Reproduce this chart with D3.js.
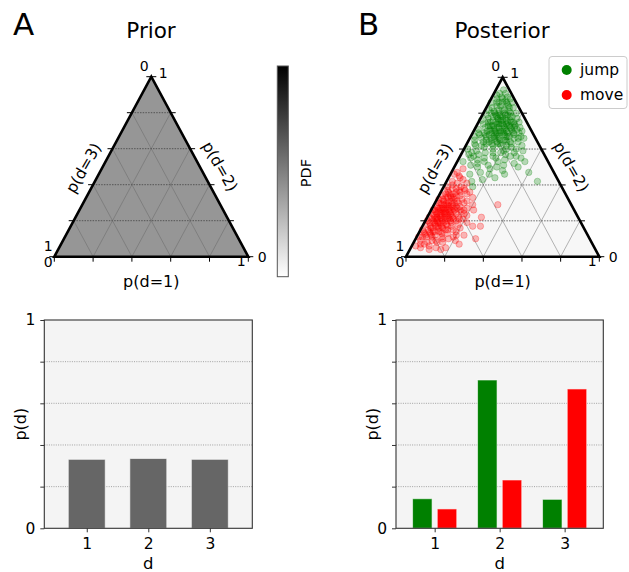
<!DOCTYPE html>
<html><head><meta charset="utf-8">
<script src="https://cdn.jsdelivr.net/npm/d3@7"></script>
<style>body{margin:0;background:#fff} svg{display:block} text{font-family:"DejaVu Sans",sans-serif;fill:#000}</style>
</head><body><svg id="c" width="629" height="572"></svg>
<script>
// ---------------- data ----------------
const categories = [1, 2, 3];
const priorP = [0.331, 0.335, 0.331];
const jumpP = [0.142, 0.712, 0.139];
const moveP = [0.093, 0.232, 0.669];
const barTicks = [0, 0.2, 0.4, 0.6, 0.8, 1];
const barTickLabels = ["0", "", "", "", "", "1"];
const barGrid = [0.2, 0.4, 0.6, 0.8];
const ternTicks = [0, 0.2, 0.4, 0.6, 0.8, 1];
const ternGrid = [0.2, 0.4, 0.6, 0.8];
const ternEndLabels = ["0", "1"];
const seriesNames = ["jump", "move"];
const seriesColors = ["#008000", "#ff0000"];
// posterior samples as [p(d=1), p(d=2)]; p(d=3) = 1 - both
const jumpPts = [
[0.04,0.93],[0.02,0.90],[0.06,0.91],[0.03,0.88],[0.08,0.87],[0.05,0.86],[0.01,0.86],[0.10,0.85],[0.07,0.84],[0.03,0.83],[0.12,0.83],[0.09,0.82],[0.05,0.81],[0.14,0.80],[0.11,0.80],[0.07,0.79],[0.02,0.79],[0.16,0.78],[0.13,0.77],[0.09,0.77],[0.04,0.77],[0.18,0.75],[0.15,0.75],[0.11,0.76],[0.06,0.75],[0.20,0.73],[0.17,0.73],[0.13,0.74],[0.08,0.73],[0.03,0.74],[0.22,0.71],[0.19,0.71],[0.15,0.72],[0.10,0.71],[0.05,0.72],[0.24,0.69],[0.21,0.69],[0.17,0.70],[0.12,0.69],[0.07,0.70],[0.02,0.71],[0.14,0.67],[0.19,0.67],[0.09,0.68],[0.04,0.68],[0.23,0.66],[0.16,0.65],[0.11,0.66],[0.06,0.66],[0.26,0.64],[0.20,0.64],[0.13,0.63],[0.08,0.64],[0.03,0.65],[0.18,0.62],[0.24,0.61],[0.10,0.61],[0.15,0.60],[0.05,0.62],[0.21,0.59],[0.27,0.60],[0.12,0.58],[0.07,0.59],
[0.13,0.81],[0.10,0.78],[0.12,0.74],[0.16,0.76],[0.08,0.80],[0.14,0.70],[0.18,0.72],[0.11,0.72],[0.06,0.78],[0.15,0.78],[0.09,0.75],[0.13,0.68],[0.17,0.68],[0.20,0.70],[0.10,0.69],[0.07,0.76],[0.12,0.79],[0.16,0.73],[0.19,0.74],[0.14,0.76],[0.22,0.68],[0.08,0.71],[0.11,0.64],[0.15,0.66],[0.18,0.65],[0.21,0.62],[0.25,0.66],[0.05,0.84],[0.09,0.86],[0.06,0.88],[0.11,0.84],[0.07,0.82],[0.04,0.80],[0.10,0.88],[0.03,0.91],[0.08,0.89],[0.12,0.86],[0.14,0.83],[0.17,0.80],[0.19,0.77],[0.21,0.75],[0.23,0.72],[0.06,0.69],[0.09,0.65],[0.04,0.63],[0.14,0.62],[0.17,0.63],[0.22,0.64],[0.28,0.66],[0.25,0.70],[0.12,0.72],[0.09,0.73],[0.15,0.70],[0.18,0.69],[0.05,0.75],[0.07,0.73],[0.11,0.70],[0.13,0.66],[0.20,0.67],[0.16,0.69],[0.10,0.74],[0.14,0.73],[0.08,0.67],[0.03,0.69],[0.01,0.76],[0.02,0.82],[0.06,0.80],[0.10,0.82],
[0.12,0.76],[0.15,0.74],[0.10,0.76],[0.08,0.78],[0.13,0.79],[0.11,0.78],[0.16,0.71],[0.14,0.69],[0.12,0.67],[0.18,0.67],[0.09,0.70],[0.07,0.68],[0.19,0.65],[0.16,0.63],[0.13,0.70],[0.11,0.74],[0.06,0.73],[0.17,0.75],[0.20,0.72],[0.09,0.79],[0.07,0.86],[0.05,0.89],[0.04,0.86],[0.10,0.63],[0.23,0.63],[0.26,0.67],[0.12,0.65],[0.08,0.62],[0.02,0.67],[0.15,0.64],
[0.06,0.55],[0.10,0.54],[0.14,0.53],[0.19,0.55],[0.24,0.54],[0.29,0.56],[0.08,0.51],[0.12,0.50],[0.17,0.51],[0.22,0.50],[0.03,0.53],[0.15,0.47],[0.20,0.46],[0.26,0.48],[0.10,0.46],[0.18,0.43],[0.13,0.42],[0.24,0.44],[0.33,0.50],[0.47,0.42],[0.40,0.47],[0.30,0.52],[0.27,0.58],[0.32,0.55],[0.05,0.58],[0.17,0.56],[0.21,0.53],[0.35,0.53],[0.28,0.46],[0.15,0.39],[0.09,0.57],[0.02,0.60],[0.23,0.57],[0.19,0.49],[0.11,0.52],[0.25,0.51],[0.31,0.59],[0.16,0.58],[0.07,0.56],[0.13,0.55],[0.20,0.58],[0.26,0.56],[0.22,0.60],[0.29,0.62],[0.04,0.57]
];
const movePts = [
[0.02,0.06],[0.05,0.05],[0.09,0.06],[0.13,0.05],[0.18,0.05],[0.03,0.09],[0.07,0.08],[0.11,0.09],[0.15,0.08],[0.01,0.11],[0.05,0.11],[0.09,0.12],[0.13,0.11],[0.17,0.10],[0.21,0.09],[0.03,0.13],[0.07,0.14],[0.11,0.14],[0.15,0.13],[0.19,0.14],[0.01,0.15],[0.05,0.16],[0.09,0.16],[0.13,0.17],[0.02,0.18],[0.06,0.18],[0.10,0.19],[0.14,0.19],[0.18,0.18],[0.04,0.20],[0.08,0.21],[0.12,0.21],[0.16,0.22],[0.01,0.22],[0.06,0.23],[0.10,0.23],[0.14,0.24],[0.20,0.23],[0.03,0.25],[0.08,0.25],[0.12,0.26],[0.17,0.26],[0.05,0.27],[0.10,0.28],[0.14,0.28],[0.02,0.28],[0.07,0.30],[0.12,0.30],[0.16,0.31],[0.04,0.31],[0.09,0.32],[0.01,0.32],[0.06,0.34],[0.11,0.34],[0.14,0.35],[0.03,0.35],[0.08,0.36],[0.12,0.37],[0.05,0.38],[0.02,0.39],[0.09,0.39],[0.06,0.41],[0.11,0.41],[0.03,0.42],[0.08,0.43],[0.05,0.45],[0.02,0.46],[0.05,0.49],
[0.04,0.17],[0.07,0.19],[0.03,0.21],[0.09,0.20],[0.05,0.22],[0.08,0.24],[0.04,0.24],[0.06,0.26],[0.11,0.24],[0.02,0.26],[0.07,0.22],[0.10,0.26],[0.06,0.20],[0.03,0.19],[0.08,0.17],[0.12,0.18],[0.05,0.14],[0.09,0.27],[0.04,0.29],[0.07,0.27],[0.13,0.22],[0.11,0.20],[0.06,0.29],[0.08,0.31],[0.03,0.27],[0.10,0.30],[0.05,0.33],[0.07,0.33],[0.02,0.24],[0.04,0.15],[0.11,0.16],[0.14,0.15],[0.07,0.12],[0.03,0.11],[0.01,0.20],[0.16,0.20],[0.12,0.28],[0.09,0.34],[0.04,0.36],[0.13,0.32],[0.15,0.26],[0.18,0.24],[0.17,0.15],[0.20,0.16],[0.22,0.19],[0.19,0.21],[0.24,0.12],[0.26,0.17],[0.22,0.26],[0.30,0.17],[0.31,0.10],[0.33,0.29],[0.24,0.07],[0.28,0.22],[0.15,0.36],[0.18,0.33],[0.20,0.29],[0.16,0.04],[0.10,0.04],[0.06,0.07],[0.14,0.10],
[0.06,0.16],[0.08,0.19],[0.05,0.19],[0.09,0.22],[0.06,0.24],[0.04,0.22],[0.07,0.25],[0.05,0.25],[0.08,0.28],[0.03,0.30],[0.07,0.17],[0.10,0.21],[0.09,0.24],[0.11,0.27],[0.06,0.31],[0.02,0.34],[0.04,0.27],[0.10,0.14],[0.12,0.23],[0.08,0.14],[0.13,0.20],[0.15,0.17],[0.17,0.21],[0.11,0.31],[0.07,0.35],[0.04,0.40],[0.09,0.37],[0.02,0.14],[0.19,0.11],[0.12,0.13],
[0.05,0.21],[0.07,0.23],[0.03,0.23],[0.09,0.18],[0.06,0.21],[0.08,0.26],[0.04,0.26],[0.10,0.25],[0.05,0.29],[0.07,0.29],[0.03,0.32],[0.06,0.27],[0.09,0.29],[0.11,0.22],[0.12,0.25],[0.06,0.13],[0.04,0.12],[0.08,0.11],[0.10,0.17],[0.13,0.15],[0.05,0.35],[0.08,0.33],[0.10,0.36],[0.03,0.37],[0.07,0.38],[0.06,0.44],[0.03,0.47],[0.14,0.21],[0.16,0.25],[0.13,0.27],[0.02,0.30],[0.01,0.26],[0.04,0.33],[0.09,0.09],[0.12,0.08],[0.04,0.07],[0.20,0.12],[0.18,0.27],[0.15,0.30],[0.11,0.38]
];

// ---------------- layout ----------------
const svg = d3.select("#c");
const FONT = '"DejaVu Sans", sans-serif';

function ternary(geo, fill, pts) {
  const g = svg.append("g");
  const xs = d3.scaleLinear().domain([0, 1]).range([geo.x0, geo.x1]);
  const ys = d3.scaleLinear().domain([0, 1]).range([geo.y0, geo.yTop]);
  const P = (a, b) => [xs(a + b / 2), ys(b)];
  const line = d3.line();
  g.append("path").attr("d", line([P(0,0), P(1,0), P(0,1)]) + "Z").attr("fill", fill);
  // grid
  ternGrid.forEach(v => {
    g.append("path").attr("d", line([P(0, v), P(1 - v, v)]))
      .attr("stroke", "#444").attr("stroke-width", 0.8).attr("stroke-dasharray", "1.5 1.2").attr("fill", "none");
    [[P(v, 0), P(v, 1 - v)], [P(1 - v, 0), P(0, 1 - v)]].forEach(seg => {
      g.append("path").attr("d", line(seg)).attr("stroke", "#666").attr("stroke-width", 0.6).attr("fill", "none").attr("opacity", 0.8);
    });
  });
  // points
  if (pts) {
    pts.forEach((set, i) => {
      g.append("g").selectAll("circle").data(set).join("circle")
        .attr("cx", d => P(d[0], d[1])[0]).attr("cy", d => P(d[0], d[1])[1]).attr("r", 3.2)
        .attr("fill", seriesColors[i]).attr("fill-opacity", 0.27)
        .attr("stroke", seriesColors[i]).attr("stroke-opacity", 0.32).attr("stroke-width", 0.8);
    });
  }
  // border
  g.append("path").attr("d", line([P(0,0), P(1,0), P(0,1)]) + "Z").attr("fill", "none")
    .attr("stroke", "#000").attr("stroke-width", 2.6).attr("stroke-linejoin", "miter");
  // ticks
  ternTicks.forEach(v => {
    const b = P(v, 0); g.append("line").attr("x1", b[0]).attr("x2", b[0]).attr("y1", b[1]).attr("y2", b[1] + 5).attr("stroke", "#000").attr("stroke-width", 1);
    const r = P(1 - v, v); g.append("line").attr("x1", r[0]).attr("x2", r[0] + 5).attr("y1", r[1]).attr("y2", r[1]).attr("stroke", "#000").attr("stroke-width", 1);
    const l = P(0, 1 - v); g.append("line").attr("x1", l[0]).attr("x2", l[0] - 5).attr("y1", l[1]).attr("y2", l[1]).attr("stroke", "#000").attr("stroke-width", 1);
  });
  const lab = (p, dx, dy, t) => g.append("text").attr("x", p[0] + dx).attr("y", p[1] + dy)
    .attr("text-anchor", "middle").attr("dominant-baseline", "central").attr("font-size", 14).text(t);
  // bottom axis p(d=1): 0 at left, 1 at right
  lab(P(0, 0), -6, 5, ternEndLabels[0]); lab(P(1, 0), -7, 4, ternEndLabels[1]);
  // right axis p(d=2): 0 at bottom right, 1 at top
  lab(P(1, 0), 14, 0, ternEndLabels[0]); lab(P(0, 1), 12, -4, ternEndLabels[1]);
  // left axis p(d=3): 0 at top, 1 at bottom left
  lab(P(0, 1), -7, -11, ternEndLabels[0]); lab(P(0, 0), -6, -10.5, ternEndLabels[1]);
  // axis titles
  const bm = P(0.5, 0);
  g.append("text").attr("x", bm[0]).attr("y", bm[1] + 30.5).attr("text-anchor", "middle").attr("font-size", 16).text("p(d=1)");
  const lm = P(0, 0.5);
  g.append("text").attr("transform", `translate(${lm[0] - 19},${lm[1] + 1.5}) rotate(-60)`)
    .attr("text-anchor", "middle").attr("dominant-baseline", "central").attr("font-size", 15.5).text("p(d=3)");
  const rm = P(0.5, 0.5);
  g.append("text").attr("transform", `translate(${rm[0] + 20},${rm[1]}) rotate(60)`)
    .attr("text-anchor", "middle").attr("dominant-baseline", "central").attr("font-size", 15.5).text("p(d=2)");
  return g;
}

function barChart(box, domain, groups) {
  const g = svg.append("g");
  const x = d3.scaleLinear().domain(domain).range([box.l, box.r]);
  const y = d3.scaleLinear().domain([0, 1]).range([box.b, box.t]);
  g.append("rect").attr("x", box.l).attr("y", box.t).attr("width", box.r - box.l).attr("height", box.b - box.t).attr("fill", "#f4f4f4");
  g.selectAll(".gl").data(barGrid).join("line").attr("x1", box.l).attr("x2", box.r)
    .attr("y1", d => y(d)).attr("y2", d => y(d)).attr("stroke", "#999").attr("stroke-width", 0.9).attr("stroke-dasharray", "1 1.3");
  groups.forEach(gr => {
    g.append("g").selectAll("rect").data(gr.vals).join("rect")
      .attr("x", (d, i) => x(categories[i] + gr.offset - gr.width / 2))
      .attr("width", (d, i) => x(categories[i] + gr.offset + gr.width / 2) - x(categories[i] + gr.offset - gr.width / 2))
      .attr("y", d => y(d)).attr("height", d => y(0) - y(d))
      .attr("fill", gr.color).attr("stroke", "#fff").attr("stroke-opacity", 0.6).attr("stroke-width", 1);
  });
  g.append("rect").attr("x", box.l).attr("y", box.t).attr("width", box.r - box.l).attr("height", box.b - box.t)
    .attr("fill", "none").attr("stroke", "#333").attr("stroke-width", 1.1);
  const ya = g.append("g").attr("transform", `translate(${box.l},0)`)
    .call(d3.axisLeft(y).tickValues(barTicks).tickFormat((d, i) => barTickLabels[i]).tickSize(4).tickPadding(5));
  ya.select(".domain").remove();
  ya.selectAll("text").attr("font-size", 15.5).attr("font-family", FONT);
  ya.selectAll("line").attr("stroke", "#333");
  const xa = g.append("g").attr("transform", `translate(0,${box.b})`)
    .call(d3.axisBottom(x).tickValues(categories).tickFormat(d3.format("d")).tickSize(4).tickPadding(6));
  xa.select(".domain").remove();
  xa.selectAll("text").attr("font-size", 15.5).attr("font-family", FONT);
  xa.selectAll("line").attr("stroke", "#333");
  g.append("text").attr("x", (box.l + box.r) / 2).attr("y", 568.5).attr("text-anchor", "middle").attr("font-size", 16.5).text("d");
  g.append("text").attr("transform", `translate(${box.l - 24},${(box.t + box.b) / 2}) rotate(-90)`)
    .attr("text-anchor", "middle").attr("dominant-baseline", "central").attr("font-size", 16).text("p(d)");
}

// panel letters and titles
svg.append("text").attr("x", 13).attr("y", 35).attr("font-size", 31).text("A");
svg.append("text").attr("x", 358).attr("y", 35).attr("font-size", 31).text("B");
svg.append("text").attr("x", 151).attr("y", 38).attr("text-anchor", "middle").attr("font-size", 21.5).text("Prior");
svg.append("text").attr("x", 502).attr("y", 38).attr("text-anchor", "middle").attr("font-size", 21.5).text("Posterior");

// ternaries
ternary({x0: 54.3, x1: 248.3, y0: 256.7, yTop: 76.7}, "#969696", null);
ternary({x0: 406, x1: 599.3, y0: 256.7, yTop: 77.3}, "#f7f7f7", [jumpPts, movePts]);

// colorbar
const defs = svg.append("defs");
const grad = defs.append("linearGradient").attr("id", "gray").attr("x1", 0).attr("y1", 1).attr("x2", 0).attr("y2", 0);
grad.append("stop").attr("offset", "0%").attr("stop-color", "#fff");
grad.append("stop").attr("offset", "100%").attr("stop-color", "#000");
svg.append("rect").attr("x", 277.3).attr("y", 66).attr("width", 11).attr("height", 210.7)
  .attr("fill", "url(#gray)").attr("stroke", "#555").attr("stroke-width", 1);
svg.append("text").attr("transform", "translate(306,173) rotate(-90)").attr("text-anchor", "middle")
  .attr("dominant-baseline", "central").attr("font-size", 14.5).text("PDF");

// legend
const lg = svg.append("g");
lg.append("rect").attr("x", 549).attr("y", 56.5).attr("width", 78).attr("height", 52).attr("rx", 3)
  .attr("fill", "#fff").attr("stroke", "#ccc").attr("stroke-width", 1);
seriesNames.forEach((n, i) => {
  lg.append("circle").attr("cx", 566.7).attr("cy", 70 + i * 25).attr("r", 5).attr("fill", seriesColors[i]);
  lg.append("text").attr("x", 580).attr("y", 70 + i * 25).attr("dominant-baseline", "central").attr("font-size", 15.5).text(n);
});

// bar charts
barChart({l: 44.3, r: 252.3, t: 320, b: 528.3}, [0.31, 3.69], [{vals: priorP, color: "#666666", offset: 0, width: 0.6}]);
barChart({l: 396, r: 603.3, t: 320, b: 528.3}, [0.405, 3.595], [
  {vals: jumpP, color: seriesColors[0], offset: -0.19, width: 0.3},
  {vals: moveP, color: seriesColors[1], offset: 0.19, width: 0.3}]);
</script></body></html>
